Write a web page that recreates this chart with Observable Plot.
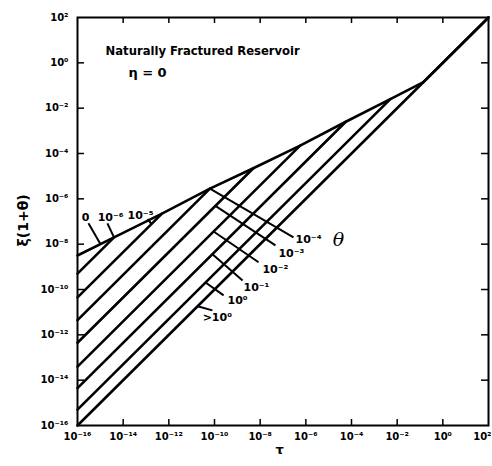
<!DOCTYPE html>
<html><head><meta charset="utf-8">
<script src="https://cdn.jsdelivr.net/npm/d3@7"></script>
<script src="https://cdn.jsdelivr.net/npm/@observablehq/plot@0.6"></script>
<style>body{margin:0;background:#fff}</style>
</head><body><div id="chart"></div>
<script>
// ---- data (log10 values) ----
const tickExp = [-16, -14, -12, -10, -8, -6, -4, -2, 0, 2];
const innerTickExp = [-14, -12, -10, -8, -6, -4, -2, 0];

// θ = 0 envelope curve
const envelopeLogTau = [-16, -14.4, -12.3, -10.2, -8.3, -6.25, -4.25, -2.3, -0.85, 2];
const envelopeLogXi  = [-8.5, -7.7, -6.65, -5.55, -4.65, -3.65, -2.6, -1.6, -0.85, 2];

// θ > 0 curves: straight unit-slope parts from τ = 1e-16 to where they meet the envelope
const thetaLabels    = ["10⁻⁶", "10⁻⁵", "10⁻⁴", "10⁻³", "10⁻²", "10⁻¹", "10⁰", ">10⁰"];
const lineLogXiStart = [-9.3, -10.35, -11.35, -12.35, -13.4, -14.35, -15.3, -16];
const lineLogTauEnd  = [-14.4, -12.3, -10.2, -8.3, -6.25, -4.25, -2.3, 2];
const lineLogXiEnd   = [-7.7, -6.65, -5.55, -4.65, -3.65, -2.6, -1.6, 2];

// label leaders for θ = 10⁻⁴ … >10⁰
const lowLabels        = ["10⁻⁴", "10⁻³", "10⁻²", "10⁻¹", "10⁰", ">10⁰"];
const lowLeadTau1      = [-10.2, -9.96, -10.04, -10.09, -10.39, -10.74];
const lowLeadXi1       = [-5.55, -6.31, -7.44, -8.44, -9.69, -10.74];
const lowLeadTau2      = [-6.54, -7.33, -8.07, -8.77, -9.60, -10.09];
const lowLeadXi2       = [-7.70, -8.05, -8.80, -9.60, -10.26, -10.92];
const lowLabelTau      = [-6.45, -7.20, -7.90, -8.73, -9.43, -10.52];
const lowLabelXi       = [-7.78, -8.40, -9.11, -9.90, -10.48, -11.23];

// labels for θ = 0, 10⁻⁶, 10⁻⁵
const topLabels   = ["0", "10⁻⁶", "10⁻⁵"];
const topLabelTau = [-15.65, -14.55, -13.24];
const topLabelXi  = [-6.81, -6.81, -6.72];
const topLeadTau1 = [-15.52, -14.69, -12.93];
const topLeadXi1  = [-7.08, -7.08, -6.90];
const topLeadTau2 = [-14.99, -14.4, -12.76];
const topLeadXi2  = [-8.0, -7.7, -7.11];

// ---- helpers ----
const p10 = e => Math.pow(10, e);
const supMap = {"-": "⁻", "0": "⁰", "1": "¹", "2": "²", "3": "³", "4": "⁴", "5": "⁵", "6": "⁶", "7": "⁷", "8": "⁸", "9": "⁹"};
const powLabel = e => "10" + String(e).split("").map(c => supMap[c]).join("");
const fmt = d => powLabel(Math.round(Math.log10(d)));

const envelope = envelopeLogTau.map((t, i) => ({tau: p10(t), xi: p10(envelopeLogXi[i])}));
const lines = thetaLabels.flatMap((th, i) => [
  {theta: th, tau: 1e-16, xi: p10(lineLogXiStart[i])},
  {theta: th, tau: p10(lineLogTauEnd[i]), xi: p10(lineLogXiEnd[i])}
]);
const lowLead = lowLabels.map((l, i) => ({l,
  x1: p10(lowLeadTau1[i]), y1: p10(lowLeadXi1[i]), x2: p10(lowLeadTau2[i]), y2: p10(lowLeadXi2[i]),
  tx: p10(lowLabelTau[i]), ty: p10(lowLabelXi[i])}));
const topLead = topLabels.map((l, i) => ({l,
  x1: p10(topLeadTau1[i]), y1: p10(topLeadXi1[i]), x2: p10(topLeadTau2[i]), y2: p10(topLeadXi2[i]),
  tx: p10(topLabelTau[i]), ty: p10(topLabelXi[i])}));

const xTicksMain = tickExp.slice(0, -1).map(p10);
const xTickLast = tickExp.slice(-1).map(p10);

const chart = Plot.plot({
  width: 492, height: 466,
  marginLeft: 77, marginRight: 4, marginTop: 17, marginBottom: 41,
  x: {type: "log", domain: [1e-16, 1e2]},
  y: {type: "log", domain: [1e-16, 1e2]},
  style: {fontFamily: "DejaVu Sans, sans-serif", fontSize: "10px", fontWeight: "bold", background: "white", color: "black"},
  marks: [
    Plot.axisX(xTicksMain, {tickSize: 0, tickPadding: 7, tickFormat: fmt, label: null, fontWeight: "bold"}),
    Plot.axisX(xTickLast, {tickSize: 0, tickPadding: 7, tickFormat: fmt, label: null, fontWeight: "bold", textAnchor: "end", dx: 3}),
    Plot.axisY(tickExp.map(p10), {tickSize: 0, tickPadding: 9, tickFormat: fmt, label: null, fontWeight: "bold"}),
    // inward ticks on all four sides
    Plot.tickX(innerTickExp.map(p10), {x: d => d, insetTop: 402, strokeWidth: 1.5}),
    Plot.tickX(innerTickExp.map(p10), {x: d => d, insetBottom: 402, strokeWidth: 1.5}),
    Plot.tickY(innerTickExp.map(p10), {y: d => d, insetRight: 404, strokeWidth: 1.5}),
    Plot.tickY(innerTickExp.map(p10), {y: d => d, insetLeft: 404, strokeWidth: 1.5}),
    Plot.frame({stroke: "black", strokeWidth: 2}),
    // curves
    Plot.line(envelope, {x: "tau", y: "xi", stroke: "black", strokeWidth: 2.6}),
    Plot.line(lines, {x: "tau", y: "xi", z: "theta", stroke: "black", strokeWidth: 2.6}),
    // leaders and labels
    Plot.link(lowLead, {x1: "x1", y1: "y1", x2: "x2", y2: "y2", stroke: "black", strokeWidth: 2}),
    Plot.text(lowLead, {x: "tx", y: "ty", text: "l", textAnchor: "start", fontSize: 11, fontWeight: "bold"}),
    Plot.link(topLead, {x1: "x1", y1: "y1", x2: "x2", y2: "y2", stroke: "black", strokeWidth: 2}),
    Plot.text(topLead, {x: "tx", y: "ty", text: "l", fontSize: 11, fontWeight: "bold"}),
    Plot.text(["θ"], {x: p10(-4.57), y: p10(-7.83), text: d => d, fontSize: 19, fontStyle: "italic", fontWeight: "normal", fontFamily: "DejaVu Serif"}),
    Plot.text(["Naturally Fractured Reservoir"], {x: p10(-14.77), y: p10(0.52), text: d => d, textAnchor: "start", fontSize: 11.6, fontWeight: "bold"}),
    Plot.text(["η = 0"], {x: p10(-13.77), y: p10(-0.45), text: d => d, textAnchor: "start", fontSize: 13, fontWeight: "bold"}),
    // axis titles
    Plot.text(["ξ(1+θ)"], {frameAnchor: "left", y: p10(-8.1), dx: -54, rotate: -90, text: d => d, fontSize: 14, fontWeight: "bold"}),
    Plot.text(["τ"], {frameAnchor: "bottom", x: p10(-7.15), dy: 28, text: d => d, fontSize: 13, fontWeight: "bold"})
  ]
});
document.getElementById("chart").appendChild(chart);
</script>
</body></html>
